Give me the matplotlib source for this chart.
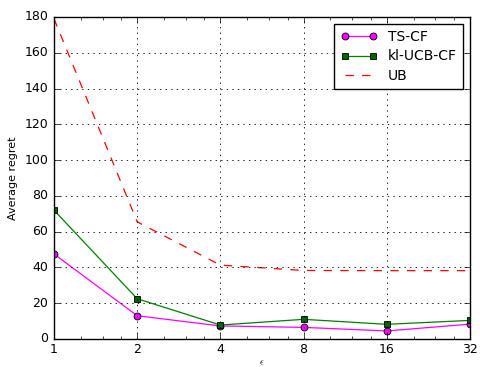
import matplotlib
matplotlib.use("Agg")
import matplotlib.pyplot as plt
from matplotlib.ticker import LogLocator, FixedLocator, FixedFormatter, NullFormatter

# ── Data ─────────────────────────────────────────────────────────────────────
eps        = [1, 2, 4, 8, 16, 32]
eps_labels = ["1", "2", "4", "8", "16", "32"]
ts_cf      = [47.5, 13.0, 7.3, 6.5, 4.5, 8.3]
kl_ucb_cf  = [72.0, 22.5, 7.8, 11.0, 8.2, 10.4]
ub         = [179.0, 65.5, 41.3, 38.3, 38.2, 38.2]

plt.style.use("classic")
plt.rcParams["font.family"] = "DejaVu Sans"

fig = plt.figure(figsize=(4.8, 3.67), dpi=100)
fig.patch.set_facecolor("white")
ax = fig.add_axes([0.1125, 0.0763, 0.8667, 0.8774])

ax.plot(eps, ts_cf, color="magenta", marker="o", markersize=5,
        markerfacecolor="magenta", markeredgecolor="black",
        markeredgewidth=0.6, linewidth=0.9, label="TS-CF")
ax.plot(eps, kl_ucb_cf, color="green", marker="s", markersize=5,
        markerfacecolor="#006400", markeredgecolor="black",
        markeredgewidth=0.6, linewidth=0.9, label="kl-UCB-CF")
ax.plot(eps, ub, color="red", linestyle="--", linewidth=0.9, label="UB")

ax.set_xscale("log", base=2)
ax.set_xlim(1, 32)
ax.set_ylim(0, 180)
ax.xaxis.set_major_locator(FixedLocator(eps))
ax.xaxis.set_major_formatter(FixedFormatter(eps_labels))
ax.xaxis.set_minor_locator(LogLocator(base=2, subs=[1.25, 1.5, 1.75]))
ax.xaxis.set_minor_formatter(NullFormatter())
ax.set_yticks(range(0, 181, 20))

ax.tick_params(labelsize=9)
ax.tick_params(axis="x", pad=3)
ax.grid(True, which="major", color="black", linestyle=":", linewidth=0.6)

ax.set_xlabel(r"$\epsilon$", fontsize=7, labelpad=1)
ax.set_ylabel("Average regret", fontsize=8)

ax.legend(loc="upper right", fontsize=10, numpoints=2, handlelength=2.6,
          borderpad=0.45, labelspacing=0.38, facecolor="white")

fig.savefig("out.png", dpi=100, facecolor="white")
